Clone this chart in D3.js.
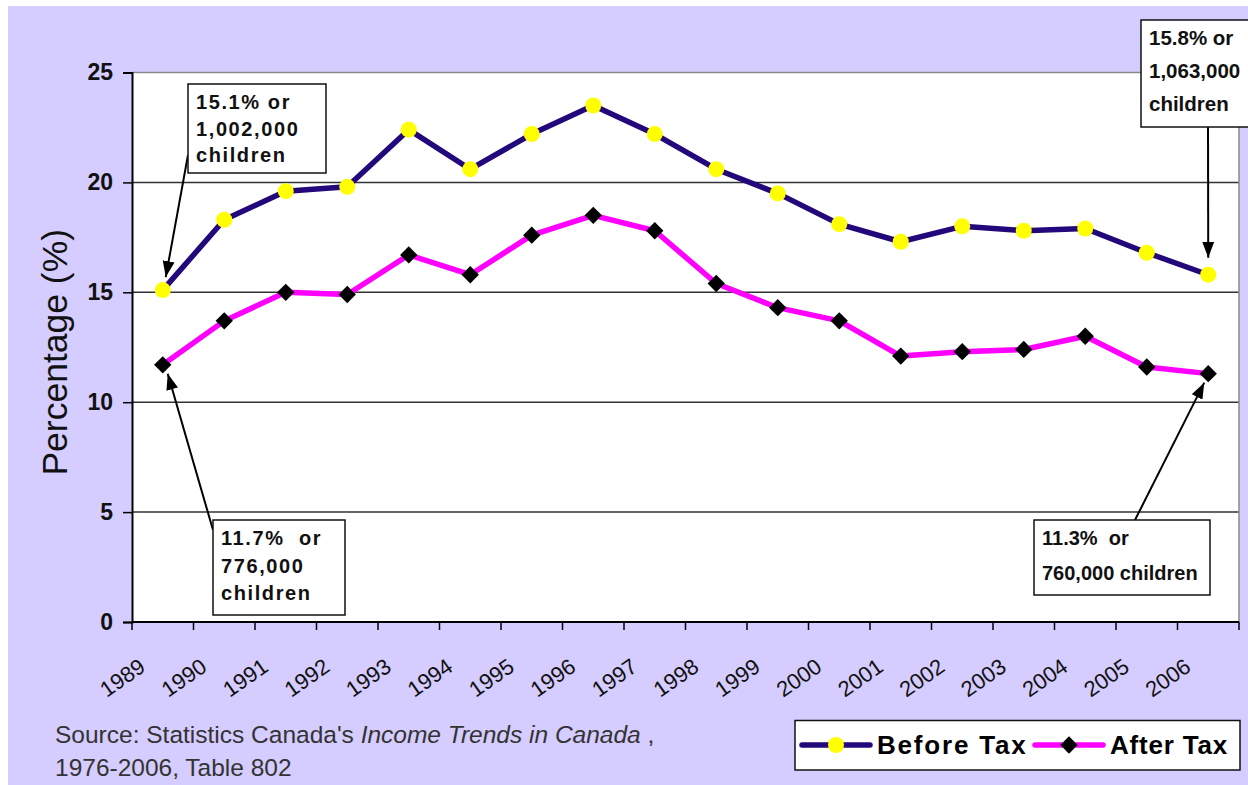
<!DOCTYPE html>
<html>
<head>
<meta charset="utf-8">
<script src="https://cdn.jsdelivr.net/npm/d3@7"></script>
<style>
  body { margin: 0; background: #fff; }
  svg { display: block; font-family: "Liberation Sans", Arial, sans-serif; }
  svg text { white-space: pre; }
</style>
</head>
<body>
<div id="chart"></div>
<script>
//chart data
var years = ["1989", "1990", "1991", "1992", "1993", "1994", "1995", "1996", "1997",
             "1998", "1999", "2000", "2001", "2002", "2003", "2004", "2005", "2006"];
var beforeTax = [15.1, 18.3, 19.6, 19.8, 22.4, 20.6, 22.2, 23.5, 22.2,
                 20.6, 19.5, 18.1, 17.3, 18.0, 17.8, 17.9, 16.8, 15.8];
var afterTax = [11.7, 13.7, 15.0, 14.9, 16.7, 15.8, 17.6, 18.5, 17.8,
                15.4, 14.3, 13.7, 12.1, 12.3, 12.4, 13.0, 11.6, 11.3];
var yTicks = [0, 5, 10, 15, 20, 25];
var seriesNames = ["Before Tax", "After Tax"];

//callout texts
var callouts = [
    {lines: ["15.1% or", "1,002,000", "children"], year: "1989", series: "before"},
    {lines: ["15.8% or", "1,063,000", "children"], year: "2006", series: "before"},
    {lines: ["11.7%  or", "776,000", "children"], year: "1989", series: "after"},
    {lines: ["11.3%  or", "760,000 children"], year: "2006", series: "after"}
];

const W = 1248, H = 785;
const plot = {left: 132, right: 1239, top: 72.5, bottom: 622};
const navy = "#22087a", magenta = "#ff00ff", lavender = "#d5ccff";

const svg = d3.select("#chart").append("svg")
    .attr("width", W)
    .attr("height", H);

//background
svg.append("rect").attr("x", 8).attr("y", 6)
    .attr("width", W - 8).attr("height", H - 6)
    .attr("fill", lavender);
svg.append("rect")
    .attr("x", plot.left).attr("y", plot.top)
    .attr("width", plot.right - plot.left).attr("height", plot.bottom - plot.top)
    .attr("fill", "#fff");

//scales
const x = d3.scaleBand().domain(years).range([plot.left, plot.right]);
const y = d3.scaleLinear().domain([0, 25]).range([plot.bottom, plot.top]);
const cx = function(d){ return x(d) + x.bandwidth() / 2; };

//grid lines
svg.append("g").selectAll("line")
    .data(yTicks.filter(function(t){ return t > 0 && t < 25; }))
    .enter().append("line")
    .attr("x1", plot.left).attr("x2", plot.right)
    .attr("y1", function(d){ return y(d); }).attr("y2", function(d){ return y(d); })
    .attr("stroke", "#333").attr("stroke-width", 1.5);

//top and right border of plot
svg.append("path")
    .attr("d", "M" + plot.left + "," + y(25) + " H" + plot.right + " V" + plot.bottom)
    .attr("fill", "none").attr("stroke", "#8a8a8a").attr("stroke-width", 1.5);

//y axis
const yAxis = svg.append("g")
    .attr("transform", "translate(" + plot.left + ",0)")
    .call(d3.axisLeft(y).tickValues(yTicks).tickSize(9).tickPadding(10));
yAxis.select(".domain").attr("stroke", "#000").attr("stroke-width", 2);
yAxis.selectAll(".tick line").attr("stroke", "#000").attr("stroke-width", 1.5);
yAxis.selectAll(".tick text")
    .attr("font-family", "Liberation Sans, Arial, sans-serif")
    .attr("font-size", 23).attr("font-weight", "bold").attr("fill", "#111");

//x axis: line, ticks at band edges, rotated labels
const xAxis = svg.append("g");
xAxis.append("line")
    .attr("x1", plot.left).attr("x2", plot.right)
    .attr("y1", plot.bottom).attr("y2", plot.bottom)
    .attr("stroke", "#000").attr("stroke-width", 2);
xAxis.selectAll(".edge")
    .data(years.map(function(d){ return x(d); }).concat([x.range()[1]]))
    .enter().append("line")
    .attr("x1", function(d){ return d; }).attr("x2", function(d){ return d; })
    .attr("y1", plot.bottom).attr("y2", plot.bottom + 8)
    .attr("stroke", "#000").attr("stroke-width", 1.5);
xAxis.selectAll("text")
    .data(years)
    .enter().append("text")
    .attr("transform", function(d){
        return "translate(" + (cx(d) - 16) + "," + (plot.bottom + 48) + ") rotate(-35)";
    })
    .attr("text-anchor", "end")
    .attr("font-size", 22)
    .attr("fill", "#111")
    .text(function(d){ return d; });

//y axis title
svg.append("text")
    .attr("transform", "translate(67," + ((plot.top + plot.bottom) / 2 + 5) + ") rotate(-90)")
    .attr("text-anchor", "middle")
    .attr("font-size", 35.5)
    .attr("fill", "#111")
    .text("Percentage (%)");

//lines and markers
const line = d3.line()
    .x(function(d, i){ return cx(years[i]); })
    .y(function(d){ return y(d); });

svg.append("path").datum(beforeTax)
    .attr("d", line).attr("fill", "none")
    .attr("stroke", navy).attr("stroke-width", 5.5).attr("stroke-linejoin", "round");
svg.append("path").datum(afterTax)
    .attr("d", line).attr("fill", "none")
    .attr("stroke", magenta).attr("stroke-width", 5.5).attr("stroke-linejoin", "round");

svg.append("g").selectAll("circle")
    .data(beforeTax)
    .enter().append("circle")
    .attr("cx", function(d, i){ return cx(years[i]); })
    .attr("cy", function(d){ return y(d); })
    .attr("r", 8)
    .attr("fill", "#ffff00");

const diamond = d3.symbol().type(d3.symbolSquare).size(150);
svg.append("g").selectAll("path")
    .data(afterTax)
    .enter().append("path")
    .attr("d", diamond)
    .attr("transform", function(d, i){
        return "translate(" + cx(years[i]) + "," + y(d) + ") rotate(45)";
    })
    .attr("fill", "#000");

//arrow marker
svg.append("defs").append("marker")
    .attr("id", "arrow")
    .attr("markerUnits", "userSpaceOnUse")
    .attr("viewBox", "0 0 16 12")
    .attr("refX", 16).attr("refY", 6)
    .attr("markerWidth", 16).attr("markerHeight", 12)
    .attr("orient", "auto")
    .append("path").attr("d", "M0,0 L16,6 L0,12 Z").attr("fill", "#000");

//callout boxes (layout) with arrow starts and tip offsets from the data point
var boxes = [
    {x: 188, y: 84, w: 138, h: 89, lh: 26.7, fs: 20, ls: 1.6, from: [188, 155], off: [3, -13]},
    {x: 1141, y: 20, w: 112, h: 107, lh: 33, fs: 20.5, ls: 0, from: [1208, 127], off: [0, -17]},
    {x: 213, y: 520, w: 132, h: 95, lh: 27.5, fs: 20, ls: 1.6, from: [213, 530], off: [5, 9]},
    {x: 1034, y: 520, w: 176, h: 75, lh: 35, fs: 20, ls: 0, from: [1135, 520], off: [-4, 9]}
];

callouts.forEach(function(c, i){
    const b = boxes[i];
    const v = (c.series === "before" ? beforeTax : afterTax)[years.indexOf(c.year)];
    svg.append("line")
        .attr("x1", b.from[0]).attr("y1", b.from[1])
        .attr("x2", cx(c.year) + b.off[0]).attr("y2", y(v) + b.off[1])
        .attr("stroke", "#000").attr("stroke-width", 2)
        .attr("marker-end", "url(#arrow)");
    const g = svg.append("g");
    g.append("rect")
        .attr("x", b.x).attr("y", b.y).attr("width", b.w).attr("height", b.h)
        .attr("fill", "#fff").attr("stroke", "#111").attr("stroke-width", 1.5);
    g.selectAll("text").data(c.lines)
        .enter().append("text")
        .attr("x", b.x + 8)
        .attr("y", function(d, j){ return b.y + 25 + j * b.lh; })
        .attr("font-size", b.fs).attr("font-weight", "bold")
        .attr("letter-spacing", b.ls)
        .attr("fill", "#111")
        .text(function(d){ return d; });
});

//source note
const src = svg.append("text").attr("font-size", 24.5).attr("fill", "#333");
src.append("tspan").attr("x", 55).attr("y", 743).text("Source: Statistics Canada's ");
src.append("tspan").attr("font-style", "italic").text("Income Trends in Canada");
src.append("tspan").text(" ,");
src.append("tspan").attr("x", 55).attr("y", 776).text("1976-2006, Table 802");

//legend
const legend = svg.append("g");
legend.append("rect")
    .attr("x", 795).attr("y", 720.5).attr("width", 445).attr("height", 49.5)
    .attr("fill", "#fff").attr("stroke", "#111").attr("stroke-width", 1.5);
var legendItems = [
    {name: seriesNames[0], color: navy, x: 802},
    {name: seriesNames[1], color: magenta, x: 1035}
];
legendItems.forEach(function(it, i){
    legend.append("line")
        .attr("x1", it.x).attr("x2", it.x + 68)
        .attr("y1", 745).attr("y2", 745)
        .attr("stroke", it.color).attr("stroke-width", 5.5).attr("stroke-linecap", "round");
    if (i === 0) {
        legend.append("circle").attr("cx", it.x + 34).attr("cy", 745).attr("r", 8).attr("fill", "#ffff00");
    } else {
        legend.append("path").attr("d", diamond)
            .attr("transform", "translate(" + (it.x + 34) + ",745) rotate(45)")
            .attr("fill", "#000");
    }
    legend.append("text")
        .attr("x", it.x + 75).attr("y", 754)
        .attr("font-size", 26).attr("font-weight", "bold")
        .attr("letter-spacing", i === 0 ? 1.8 : 0.8)
        .attr("fill", "#000")
        .text(it.name);
});
</script>
</body>
</html>
